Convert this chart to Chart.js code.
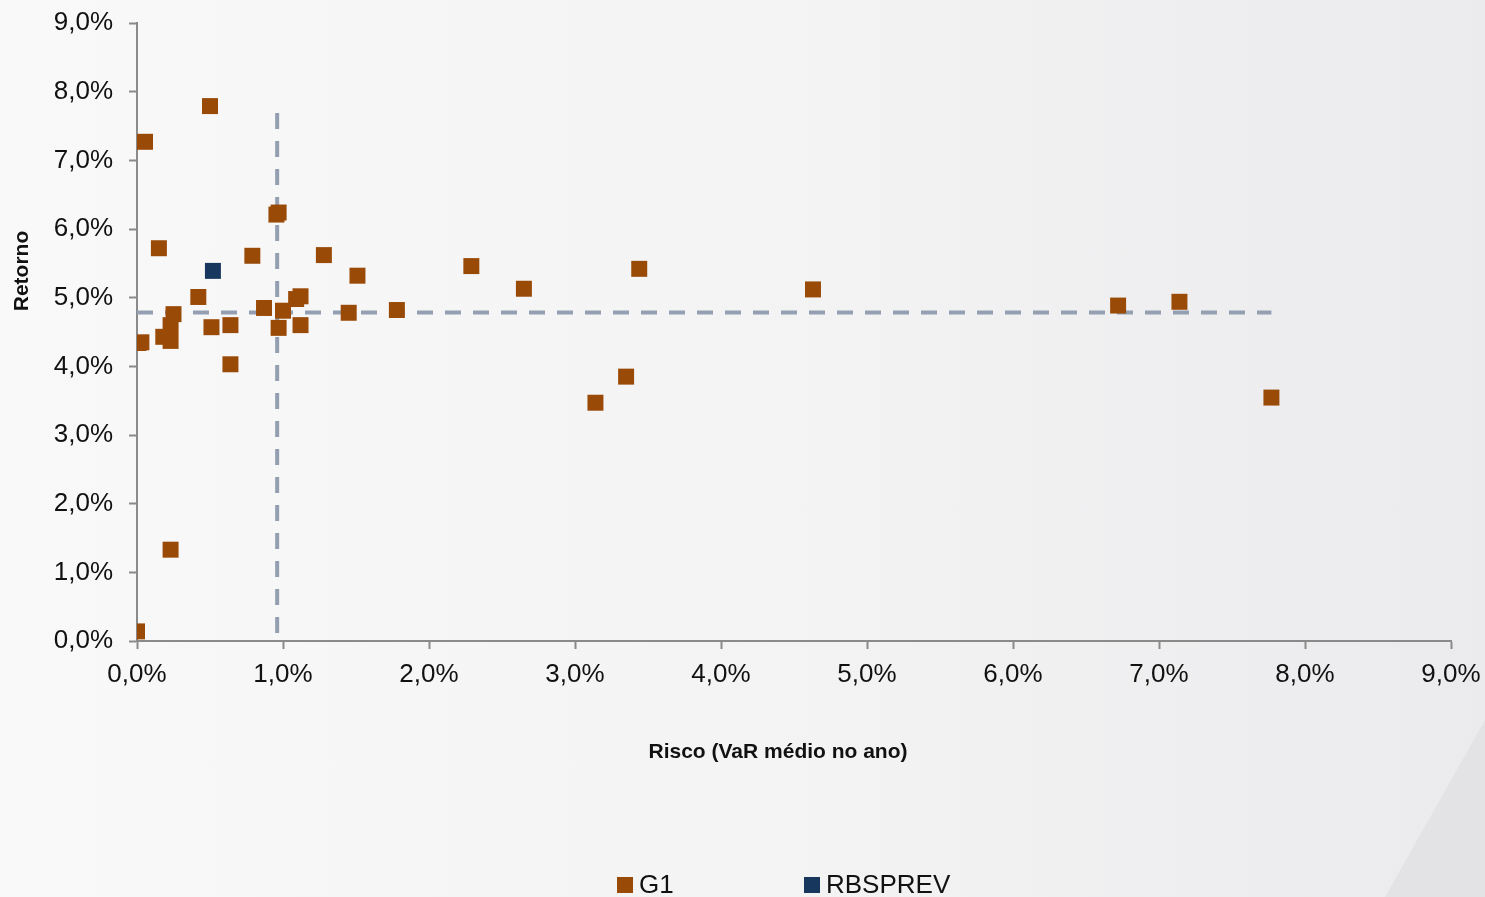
<!DOCTYPE html>
<html>
<head>
<meta charset="utf-8">
<script src="https://cdn.jsdelivr.net/npm/chart.js@4.4.1/dist/chart.umd.min.js"></script>
<style>
  html, body {
    margin: 0;
    padding: 0;
    width: 1485px;
    height: 897px;
    overflow: hidden;
    font-family: "Liberation Sans", Arial, sans-serif;
  }
  body {
    position: relative;
    background: linear-gradient(to right, #f9f9fa 0%, #f3f3f4 55%, #ebebed 100%);
  }
  .swoosh {
    position: absolute;
    left: 0; top: 0;
    width: 1485px; height: 897px;
    background: #e3e3e5;
    clip-path: polygon(1485px 720px, 1485px 897px, 1385px 897px);
  }
  .chart-box {
    position: absolute;
    left: 0; top: 0;
    width: 1485px;
    height: 897px;
  }
  .legend-item {
    position: absolute;
    top: 868px;
    font-size: 26px;
    color: #111;
    line-height: 32px;
    white-space: nowrap;
  }
  .legend-item span {
    display: inline-block;
    width: 16px;
    height: 16px;
    margin-right: 6px;
    vertical-align: 0px;
  }
</style>
</head>
<body>
<div class="swoosh"></div>
<div class="chart-box"><canvas id="riskChart"></canvas></div>
<div class="legend-item" style="left:617px"><span style="background:#9a4a07"></span>G1</div>
<div class="legend-item" style="left:804px"><span style="background:#17375e"></span>RBSPREV</div>

<script>
// Risco (VaR médio no ano) x Retorno, em %
const g1Risk = [0.50, 0.055, 0.955, 0.97, 0.15, 0.79, 1.28, 1.51, 0.42, 1.09, 1.12, 0.87, 1.00,
  1.45, 1.78, 0.25, 0.23, 0.51, 0.64, 0.97, 1.12, 0.18, 0.23, 0.01, 0.03, 0.64, 0.23, 0.0,
  2.29, 2.65, 3.44, 3.14, 3.35, 4.63, 6.72, 7.14, 7.77];
const g1Return = [7.79, 7.27, 6.21, 6.24, 5.72, 5.61, 5.62, 5.32, 5.01, 4.98, 5.02, 4.85, 4.81,
  4.78, 4.82, 4.76, 4.60, 4.57, 4.60, 4.56, 4.60, 4.43, 4.37, 4.34, 4.35, 4.03, 1.33, 0.14,
  5.46, 5.13, 5.42, 3.47, 3.85, 5.12, 4.885, 4.94, 3.545];

const rbsRisk = [0.52];
const rbsReturn = [5.39];

// linhas de referência (médias)
const avgRisk = 0.96;
const avgReturn = 4.785;
const vLineReturn = [7.69, 0];
const hLineRisk = [0, 7.77];

const xTicks = [0, 1, 2, 3, 4, 5, 6, 7, 8, 9];
const yTicks = [0, 1, 2, 3, 4, 5, 6, 7, 8, 9];

const xTitle = "Risco (VaR médio no ano)";
const yTitle = "Retorno";

function toPoints(xs, ys) {
  return xs.map(function (x, i) {
    return { x: x, y: ys[i] };
  });
}

function pct(v) {
  return v.toFixed(1).replace(".", ",") + "%";
}

const axisColor = "#8a8a8a";
const dashColor = "#94a0b2";
const fontFamily = "'Liberation Sans', Arial, sans-serif";

// axis titles sit a bit off-centre in the original, so draw them here
const axisTitles = {
  id: "axisTitles",
  afterDraw: function (chart) {
    const c = chart.ctx;
    c.save();
    c.fillStyle = "#111";
    c.font = "bold 21px " + fontFamily;
    c.textAlign = "center";
    c.textBaseline = "middle";
    c.fillText(xTitle, 778, 752);
    c.translate(22, 271);
    c.rotate(-Math.PI / 2);
    c.fillText(yTitle, 0, 0);
    c.restore();
  },
};

const ctx = document.getElementById("riskChart").getContext("2d");
const chart = new Chart(ctx, {
  type: "scatter",
  data: {
    datasets: [
      {
        label: "G1",
        data: toPoints(g1Risk, g1Return),
        pointStyle: "rect",
        pointRadius: 11.3,
        pointHoverRadius: 11.3,
        backgroundColor: "#9a4a07",
        borderWidth: 0,
        order: 1,
      },
      {
        label: "RBSPREV",
        data: toPoints(rbsRisk, rbsReturn),
        pointStyle: "rect",
        pointRadius: 11.3,
        pointHoverRadius: 11.3,
        backgroundColor: "#17375e",
        borderWidth: 0,
        order: 0,
      },
      {
        label: "vline",
        data: vLineReturn.map(function (y) { return { x: avgRisk, y: y }; }),
        showLine: true,
        borderColor: dashColor,
        borderWidth: 4,
        borderDash: [16, 12],
        pointRadius: 0,
        order: 3,
      },
      {
        label: "hline",
        data: hLineRisk.map(function (x) { return { x: x, y: avgReturn }; }),
        showLine: true,
        borderColor: dashColor,
        borderWidth: 4,
        borderDash: [16, 12],
        pointRadius: 0,
        order: 3,
      },
    ],
  },
  plugins: [axisTitles],
  options: {
    responsive: true,
    maintainAspectRatio: false,
    animation: false,
    layout: {
      padding: { top: 23, right: 34, left: 0, bottom: 0 },
    },
    plugins: {
      legend: { display: false },
      tooltip: { enabled: false },
    },
    scales: {
      x: {
        type: "linear",
        min: 0,
        max: 9,
        afterFit: function (scale) {
          scale.height = 256;
          scale.paddingLeft = 0;
          scale.paddingRight = 0;
        },
        afterBuildTicks: function (scale) {
          scale.ticks = xTicks.map(function (v) { return { value: v }; });
        },
        ticks: {
          callback: pct,
          color: "#111",
          padding: 10,
          maxRotation: 0,
          font: { family: fontFamily, size: 26 },
        },
        grid: {
          drawOnChartArea: false,
          drawTicks: true,
          tickLength: 8,
          tickWidth: 2,
          color: axisColor,
        },
        border: { display: true, color: axisColor, width: 2 },
      },
      y: {
        type: "linear",
        min: 0,
        max: 9,
        afterFit: function (scale) {
          scale.width = 137;
          scale.paddingTop = 0;
          scale.paddingBottom = 0;
        },
        afterBuildTicks: function (scale) {
          scale.ticks = yTicks.map(function (v) { return { value: v }; });
        },
        ticks: {
          callback: pct,
          color: "#111",
          padding: 16,
          font: { family: fontFamily, size: 26 },
        },
        grid: {
          drawOnChartArea: false,
          drawTicks: true,
          tickLength: 8,
          tickWidth: 2,
          color: axisColor,
        },
        border: { display: true, color: axisColor, width: 2 },
      },
    },
  },
});
</script>
</body>
</html>
